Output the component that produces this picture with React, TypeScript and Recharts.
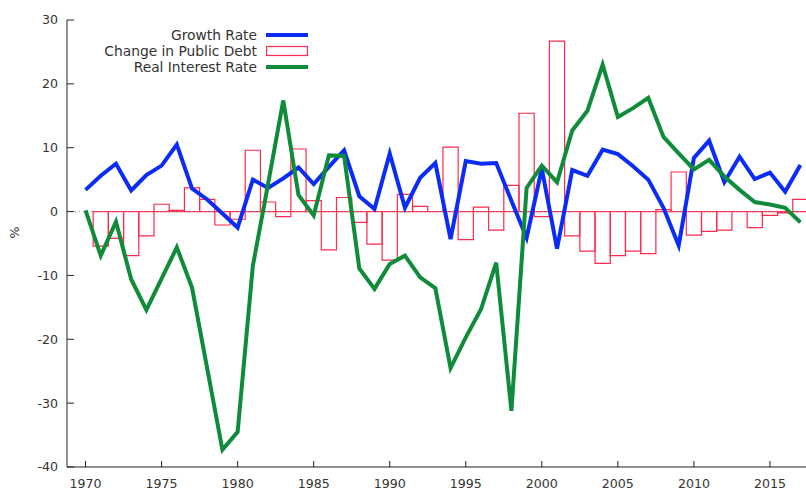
import { ComposedChart, XAxis, YAxis, Line, Bar, Legend, ReferenceLine } from 'recharts'

const years = [
  1970, 1971, 1972, 1973, 1974, 1975, 1976, 1977, 1978, 1979,
  1980, 1981, 1982, 1983, 1984, 1985, 1986, 1987, 1988, 1989,
  1990, 1991, 1992, 1993, 1994, 1995, 1996, 1997, 1998, 1999,
  2000, 2001, 2002, 2003, 2004, 2005, 2006, 2007, 2008, 2009,
  2010, 2011, 2012, 2013, 2014, 2015, 2016, 2017,
]

const growthRate = [
  3.4, 5.6, 7.5, 3.3, 5.7, 7.2, 10.5, 3.6, 1.9, -0.3,
  -2.5, 5.0, 3.7, 5.2, 6.9, 4.3, 7.0, 9.6, 2.4, 0.4,
  9.1, 0.6, 5.3, 7.6, -4.3, 7.9, 7.5, 7.6, 1.7, -4.1,
  6.7, -5.8, 6.5, 5.6, 9.7, 9.0, 7.1, 5.0, 0.6, -5.3,
  8.4, 11.1, 4.6, 8.6, 5.1, 6.1, 3.1, 7.3,
]

// no debt figure for the first year
const publicDebtChange = [
  null, -5.4, -4.2, -6.9, -3.8, 1.15, 0.2, 3.7, 1.9, -2.1,
  -1.2, 9.6, 1.5, -0.8, 9.8, 1.7, -6.0, 2.2, -1.7, -5.1,
  -7.6, 2.7, 0.8, 0, 10.1, -4.4, 0.7, -2.9, 4.1, 15.4,
  -0.8, 26.7, -3.8, -6.2, -8.1, -6.9, -6.2, -6.6, 0.3, 6.2,
  -3.7, -3.1, -2.9, 0, -2.5, -0.6, -0.2, 1.9,
]

const realInterestRate = [
  0.2, -6.9, -1.6, -10.6, -15.4, -10.5, -5.6, -11.9, -24.6, -37.3,
  -34.5, -8.5, 4.3, 17.4, 2.6, -0.6, 8.8, 8.7, -8.9, -12.1,
  -8.2, -6.9, -10.3, -12.0, -24.5, -19.7, -15.3, -8.0, -31.2, 3.7,
  7.2, 4.6, 12.7, 15.8, 23.0, 14.8, 16.2, 17.8, 11.7, 9.1,
  6.6, 8.1, 5.5, 3.4, 1.5, 1.1, 0.6, -1.7,
]

const xTicks = [1970, 1975, 1980, 1985, 1990, 1995, 2000, 2005, 2010, 2015]
const yTicks = [-40, -30, -20, -10, 0, 10, 20, 30]

const data = years.map((year, i) => ({
  year,
  growth: growthRate[i],
  debt: publicDebtChange[i],
  interest: realInterestRate[i],
}))

const FONT = '"DejaVu Sans", Verdana, sans-serif'
const BLUE = '#0b2cf5'
const RED = '#ff2a4d'
const GREEN = '#0f8c3a'
const INK = '#222'

// open boxes; a path so that zero-height boxes still leave their edge on the baseline
const DebtBox = (props: any) => {
  const { x, y, width, height, payload } = props
  if (payload == null || payload.debt == null) return <g />
  return (
    <path
      d={`M${x},${y}h${width}v${height}h${-width}Z`}
      fill="none"
      stroke={RED}
      strokeWidth={1.2}
    />
  )
}

const legendOrder = ['growth', 'debt', 'interest']

const legendSwatch: Record<string, JSX.Element> = {
  growth: <line x1={0} x2={42} y1={8} y2={8} stroke={BLUE} strokeWidth={4} />,
  debt: <rect x={0.5} y={3.5} width={41} height={9} fill="none" stroke={RED} strokeWidth={1.2} />,
  interest: <line x1={0} x2={42} y1={8} y2={8} stroke={GREEN} strokeWidth={4} />,
}

const KeyBox = ({ payload }: any) => {
  const items = [...(payload || [])].sort(
    (a: any, b: any) => legendOrder.indexOf(a.dataKey) - legendOrder.indexOf(b.dataKey)
  )
  return (
    <div style={{ fontFamily: FONT, fontSize: 13.8, color: '#333' }}>
      {items.map((entry: any) => (
        <div key={entry.dataKey} style={{ display: 'flex', alignItems: 'center', height: 16 }}>
          <span style={{ width: 170, textAlign: 'right', whiteSpace: 'nowrap', lineHeight: '16px' }}>
            {entry.value}
          </span>
          <svg width={42} height={16} style={{ marginLeft: 9 }}>
            {legendSwatch[entry.dataKey]}
          </svg>
        </div>
      ))}
    </div>
  )
}

export default function App() {
  const tickStyle = { fontSize: 12.6, fill: '#333', fontFamily: FONT }
  return (
    <div style={{ position: 'absolute', left: 0, top: 0, background: '#fff' }}>
      <ComposedChart
        width={806}
        height={491}
        data={data}
        margin={{ top: 20, right: 0, bottom: 0, left: 0 }}
      >
        <XAxis
          dataKey="year"
          type="number"
          domain={[1968.78, 2017.37]}
          allowDataOverflow
          ticks={xTicks}
          height={24}
          tickSize={-6}
          tickMargin={18}
          tick={tickStyle}
          stroke={INK}
        />
        <XAxis
          xAxisId="top"
          orientation="top"
          dataKey="year"
          type="number"
          domain={[1968.78, 2017.37]}
          allowDataOverflow
          ticks={xTicks}
          height={0}
          tickSize={-6}
          tick={false}
          stroke={INK}
        />
        <YAxis
          type="number"
          domain={[-40, 30]}
          ticks={yTicks}
          width={67}
          tickSize={-7}
          tickMargin={16}
          tick={tickStyle}
          stroke={INK}
          label={{ value: '%', angle: -90, position: 'insideLeft', offset: 15, dy: -5, fill: '#333', fontSize: 12.6, fontFamily: FONT }}
        />
        <ReferenceLine y={0} stroke="#999" strokeDasharray="1 3" />
        <Legend
          layout="vertical"
          align="center"
          verticalAlign="middle"
          wrapperStyle={{ position: 'absolute', left: 87, top: 27, width: 230 }}
          content={KeyBox}
        />
        <Line
          dataKey="growth"
          name="Growth Rate"
          stroke={BLUE}
          strokeWidth={4}
          dot={false}
          activeDot={false}
          isAnimationActive={false}
        />
        <Bar
          dataKey="debt"
          name="Change in Public Debt"
          barSize={15.2}
          fill={RED}
          shape={DebtBox}
          isAnimationActive={false}
        />
        <Line
          dataKey="interest"
          name="Real Interest Rate"
          stroke={GREEN}
          strokeWidth={4}
          dot={false}
          activeDot={false}
          isAnimationActive={false}
        />
      </ComposedChart>
    </div>
  )
}
